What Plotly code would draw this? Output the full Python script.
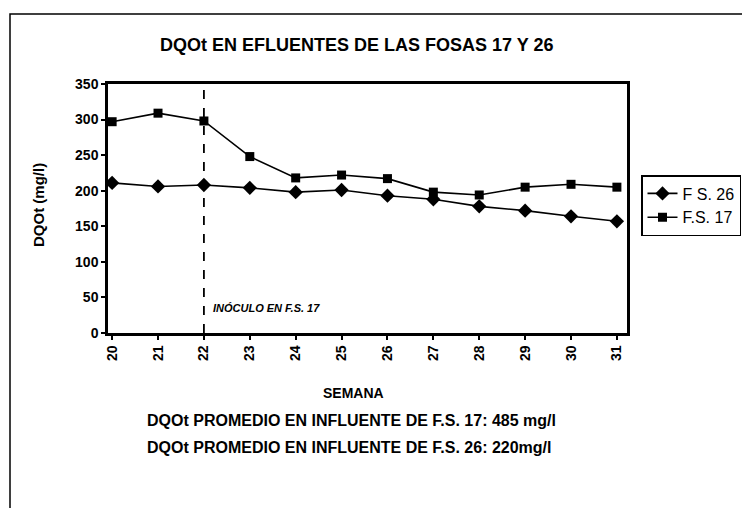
import plotly.graph_objects as go

semanas = [20, 21, 22, 23, 24, 25, 26, 27, 28, 29, 30, 31]
fs26 = [211, 206, 208, 204, 198, 201, 193, 188, 178, 172, 164, 157]
fs17 = [297, 309, 298, 248, 218, 222, 217, 198, 194, 205, 209, 205]
y_ticks = [0, 50, 100, 150, 200, 250, 300, 350]
inoculo_semana = 22

OFF = 8  # page body margin
W, H = 750, 508
L, T = 108 - OFF, 84 - OFF
R = W - (627 - OFF)
B = H - (333 - OFF)
pw, ph = W - L - R, H - T - B

def px(x):
    return (x - OFF - L) / pw

def py(y):
    return (H - B - (y - OFF)) / ph

FONT = "Liberation Sans"

fig = go.Figure()
fig.add_trace(go.Scatter(x=semanas, y=fs26, name="F S. 26", mode="lines+markers",
                         line=dict(color="black", width=1.6),
                         marker=dict(symbol="diamond", size=11, color="black")))
fig.add_trace(go.Scatter(x=semanas, y=fs17, name="F.S. 17", mode="lines+markers",
                         line=dict(color="black", width=1.6),
                         marker=dict(symbol="square", size=9, color="black")))

fig.add_shape(type="line", x0=inoculo_semana, x1=inoculo_semana, y0=0, y1=350,
              xref="x", yref="y", line=dict(color="black", width=1.8, dash="dash"))

# outer frame
fig.add_shape(type="rect", xref="paper", yref="paper",
              x0=px(10), x1=px(800), y0=py(14), y1=py(560),
              line=dict(color="black", width=1.5), layer="below")

fig.update_layout(
    width=W, height=H,
    margin=dict(l=L, r=R, t=T, b=B),
    paper_bgcolor="white", plot_bgcolor="white",
    font=dict(family=FONT, color="black"),
    showlegend=True,
    legend=dict(x=px(641), y=py(175), xanchor="left", yanchor="top",
                bordercolor="black", borderwidth=1.5,
                font=dict(family=FONT, size=16, color="black"),
                tracegroupgap=2, itemwidth=30),
    xaxis=dict(range=[19.91, 31.22], tickmode="array", tickvals=semanas,
               ticktext=[str(s) for s in semanas], tickangle=-90,
               showgrid=False, zeroline=False, showline=True, linecolor="black",
               linewidth=2.5, mirror=True, ticks="outside", ticklen=4,
               tickcolor="black", tickwidth=1.5,
               tickfont=dict(family=FONT, size=14, color="black", weight="bold")),
    yaxis=dict(range=[0, 350], tickmode="array", tickvals=y_ticks,
               showgrid=False, zeroline=False, showline=True, linecolor="black",
               linewidth=2.5, mirror=True, ticks="outside", ticklen=4,
               tickcolor="black", tickwidth=1.5,
               tickfont=dict(family=FONT, size=14, color="black", weight="bold")),
)

ann = [
    dict(text="<b>DQOt EN EFLUENTES DE LAS FOSAS 17 Y 26</b>", x=px(356), y=py(45),
         font=dict(size=18), xanchor="center"),
    dict(text="<b>SEMANA</b>", x=px(353), y=py(393), font=dict(size=14), xanchor="center"),
    dict(text="<b>DQOt PROMEDIO EN INFLUENTE DE F.S. 17: 485 mg/l</b>", x=px(145), y=py(420),
         font=dict(size=16), xanchor="left"),
    dict(text="<b>DQOt PROMEDIO EN INFLUENTE DE F.S. 26: 220mg/l</b>", x=px(145), y=py(447),
         font=dict(size=16), xanchor="left"),
    dict(text="<b>DQOt (mg/l)</b>", x=px(38), y=py(205), font=dict(size=15),
         xanchor="center", textangle=-90),
]
for a in ann:
    fig.add_annotation(xref="paper", yref="paper", yanchor="middle", showarrow=False,
                       **a)
fig.add_annotation(xref="x", yref="y", x=22.15, y=35, xanchor="left", yanchor="middle",
                   showarrow=False, text="<b><i>INÓCULO EN F.S. 17</i></b>",
                   font=dict(size=11, family=FONT))

fig.write_html("out.html")
